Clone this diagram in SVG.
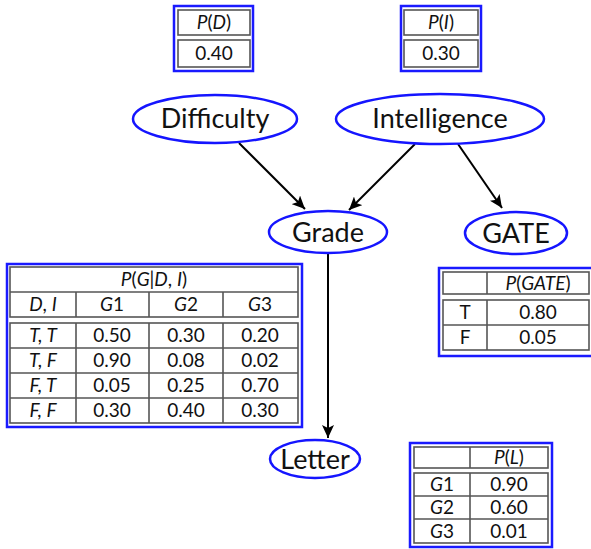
<svg xmlns="http://www.w3.org/2000/svg" width="591" height="549" viewBox="0 0 591 549">
<defs>
<marker id="ah" markerUnits="userSpaceOnUse" markerWidth="14" markerHeight="12" refX="13" refY="6" orient="auto">
<path d="M0,0 L13,6 L0,12 L3,6 z" fill="#000"/>
</marker>
<style>
.node ellipse{fill:#fff;stroke:#1515ff;stroke-width:2.5}
.lbl{font-family:Lato,"Liberation Sans",sans-serif;font-size:27px;fill:#111;text-anchor:middle}
.frame{fill:#fff;stroke:#1a1aff;stroke-width:2.5}
.cell{fill:none;stroke:#555;stroke-width:1.6}
.t{font-family:Lato,"Liberation Sans",sans-serif;font-size:19px;fill:#111;text-anchor:middle}
.i{font-style:italic}
.edge{stroke:#000;stroke-width:2;fill:none;marker-end:url(#ah)}
</style>
</defs>

<g id="cpt-D">
<rect class="frame" x="174" y="6" width="79" height="65"/>
<rect class="cell" x="178" y="10" width="72" height="25"/>
<rect class="cell" x="178" y="40" width="72" height="27"/>
<text class="t" x="214" y="29"><tspan class="i">P</tspan>(<tspan class="i">D</tspan>)</text>
<text class="t" x="214" y="60">0.40</text>
</g>

<g id="cpt-I">
<rect class="frame" x="401" y="6" width="80" height="65"/>
<rect class="cell" x="404" y="10" width="74" height="25"/>
<rect class="cell" x="404" y="40" width="74" height="27"/>
<text class="t" x="441" y="29"><tspan class="i">P</tspan>(<tspan class="i">I</tspan>)</text>
<text class="t" x="441" y="60">0.30</text>
</g>

<g id="connectors">
<line class="edge" x1="239" y1="143" x2="305" y2="209"/>
<line class="edge" x1="415" y1="144" x2="349" y2="210"/>
<line class="edge" x1="458" y1="144" x2="502" y2="208"/>
<line class="edge" x1="328" y1="253" x2="328" y2="438"/>
</g>

<g id="difficulty" class="node">
<ellipse cx="215" cy="119" rx="82" ry="24"/>
<text class="lbl" x="215" y="128">Difficulty</text>
</g>
<g id="intelligence" class="node">
<ellipse cx="440" cy="119" rx="104" ry="25"/>
<text class="lbl" x="440" y="128">Intelligence</text>
</g>
<g id="grade" class="node">
<ellipse cx="328" cy="232" rx="59" ry="21"/>
<text class="lbl" x="328" y="242">Grade</text>
</g>
<g id="gate" class="node">
<ellipse cx="516" cy="233" rx="51" ry="21"/>
<text class="lbl" x="516" y="243">GATE</text>
</g>
<g id="letter" class="node">
<ellipse cx="315" cy="459" rx="45" ry="19"/>
<text class="lbl" x="315" y="469">Letter</text>
</g>

<g id="cpt-G">
<rect class="frame" x="7" y="264" width="295" height="163"/>
<rect class="cell" x="10" y="267" width="288" height="50"/>
<line class="cell" x1="10" y1="292" x2="298" y2="292"/>
<line class="cell" x1="76" y1="292" x2="76" y2="317"/>
<line class="cell" x1="149" y1="292" x2="149" y2="317"/>
<line class="cell" x1="223" y1="292" x2="223" y2="317"/>
<rect class="cell" x="10" y="323" width="288" height="100"/>
<line class="cell" x1="10" y1="348" x2="298" y2="348"/>
<line class="cell" x1="10" y1="373" x2="298" y2="373"/>
<line class="cell" x1="10" y1="398" x2="298" y2="398"/>
<line class="cell" x1="76" y1="323" x2="76" y2="423"/>
<line class="cell" x1="149" y1="323" x2="149" y2="423"/>
<line class="cell" x1="223" y1="323" x2="223" y2="423"/>
<text class="t" x="154" y="286"><tspan class="i">P</tspan>(<tspan class="i">G</tspan>|<tspan class="i">D</tspan>, <tspan class="i">I</tspan>)</text>
<text class="t" x="43" y="311"><tspan class="i">D</tspan>, <tspan class="i">I</tspan></text>
<text class="t" x="112" y="311"><tspan class="i">G</tspan>1</text>
<text class="t" x="186" y="311"><tspan class="i">G</tspan>2</text>
<text class="t" x="260" y="311"><tspan class="i">G</tspan>3</text>
<text class="t i" x="43" y="342">T, T</text>
<text class="t" x="112" y="342">0.50</text>
<text class="t" x="186" y="342">0.30</text>
<text class="t" x="260" y="342">0.20</text>
<text class="t i" x="43" y="367">T, F</text>
<text class="t" x="112" y="367">0.90</text>
<text class="t" x="186" y="367">0.08</text>
<text class="t" x="260" y="367">0.02</text>
<text class="t i" x="43" y="392">F, T</text>
<text class="t" x="112" y="392">0.05</text>
<text class="t" x="186" y="392">0.25</text>
<text class="t" x="260" y="392">0.70</text>
<text class="t i" x="43" y="417">F, F</text>
<text class="t" x="112" y="417">0.30</text>
<text class="t" x="186" y="417">0.40</text>
<text class="t" x="260" y="417">0.30</text>
</g>

<g id="cpt-GATE">
<rect class="frame" x="439" y="268" width="155" height="88"/>
<rect class="cell" x="443" y="272" width="146" height="22"/>
<line class="cell" x1="487" y1="272" x2="487" y2="294"/>
<rect class="cell" x="443" y="300" width="146" height="50"/>
<line class="cell" x1="443" y1="325" x2="589" y2="325"/>
<line class="cell" x1="487" y1="300" x2="487" y2="350"/>
<text class="t" x="538" y="290"><tspan class="i">P</tspan>(<tspan class="i">GATE</tspan>)</text>
<text class="t" x="465" y="319">T</text>
<text class="t" x="538" y="319">0.80</text>
<text class="t" x="465" y="344">F</text>
<text class="t" x="538" y="344">0.05</text>
</g>

<g id="cpt-L">
<rect class="frame" x="410" y="443" width="142" height="104"/>
<rect class="cell" x="414" y="447" width="134" height="21"/>
<line class="cell" x1="470" y1="447" x2="470" y2="468"/>
<rect class="cell" x="414" y="473" width="134" height="70"/>
<line class="cell" x1="414" y1="496" x2="548" y2="496"/>
<line class="cell" x1="414" y1="519" x2="548" y2="519"/>
<line class="cell" x1="470" y1="473" x2="470" y2="543"/>
<text class="t" x="509" y="464"><tspan class="i">P</tspan>(<tspan class="i">L</tspan>)</text>
<text class="t" x="442" y="491"><tspan class="i">G</tspan>1</text>
<text class="t" x="509" y="491">0.90</text>
<text class="t" x="442" y="514"><tspan class="i">G</tspan>2</text>
<text class="t" x="509" y="514">0.60</text>
<text class="t" x="442" y="538"><tspan class="i">G</tspan>3</text>
<text class="t" x="509" y="538">0.01</text>
</g>
</svg>
